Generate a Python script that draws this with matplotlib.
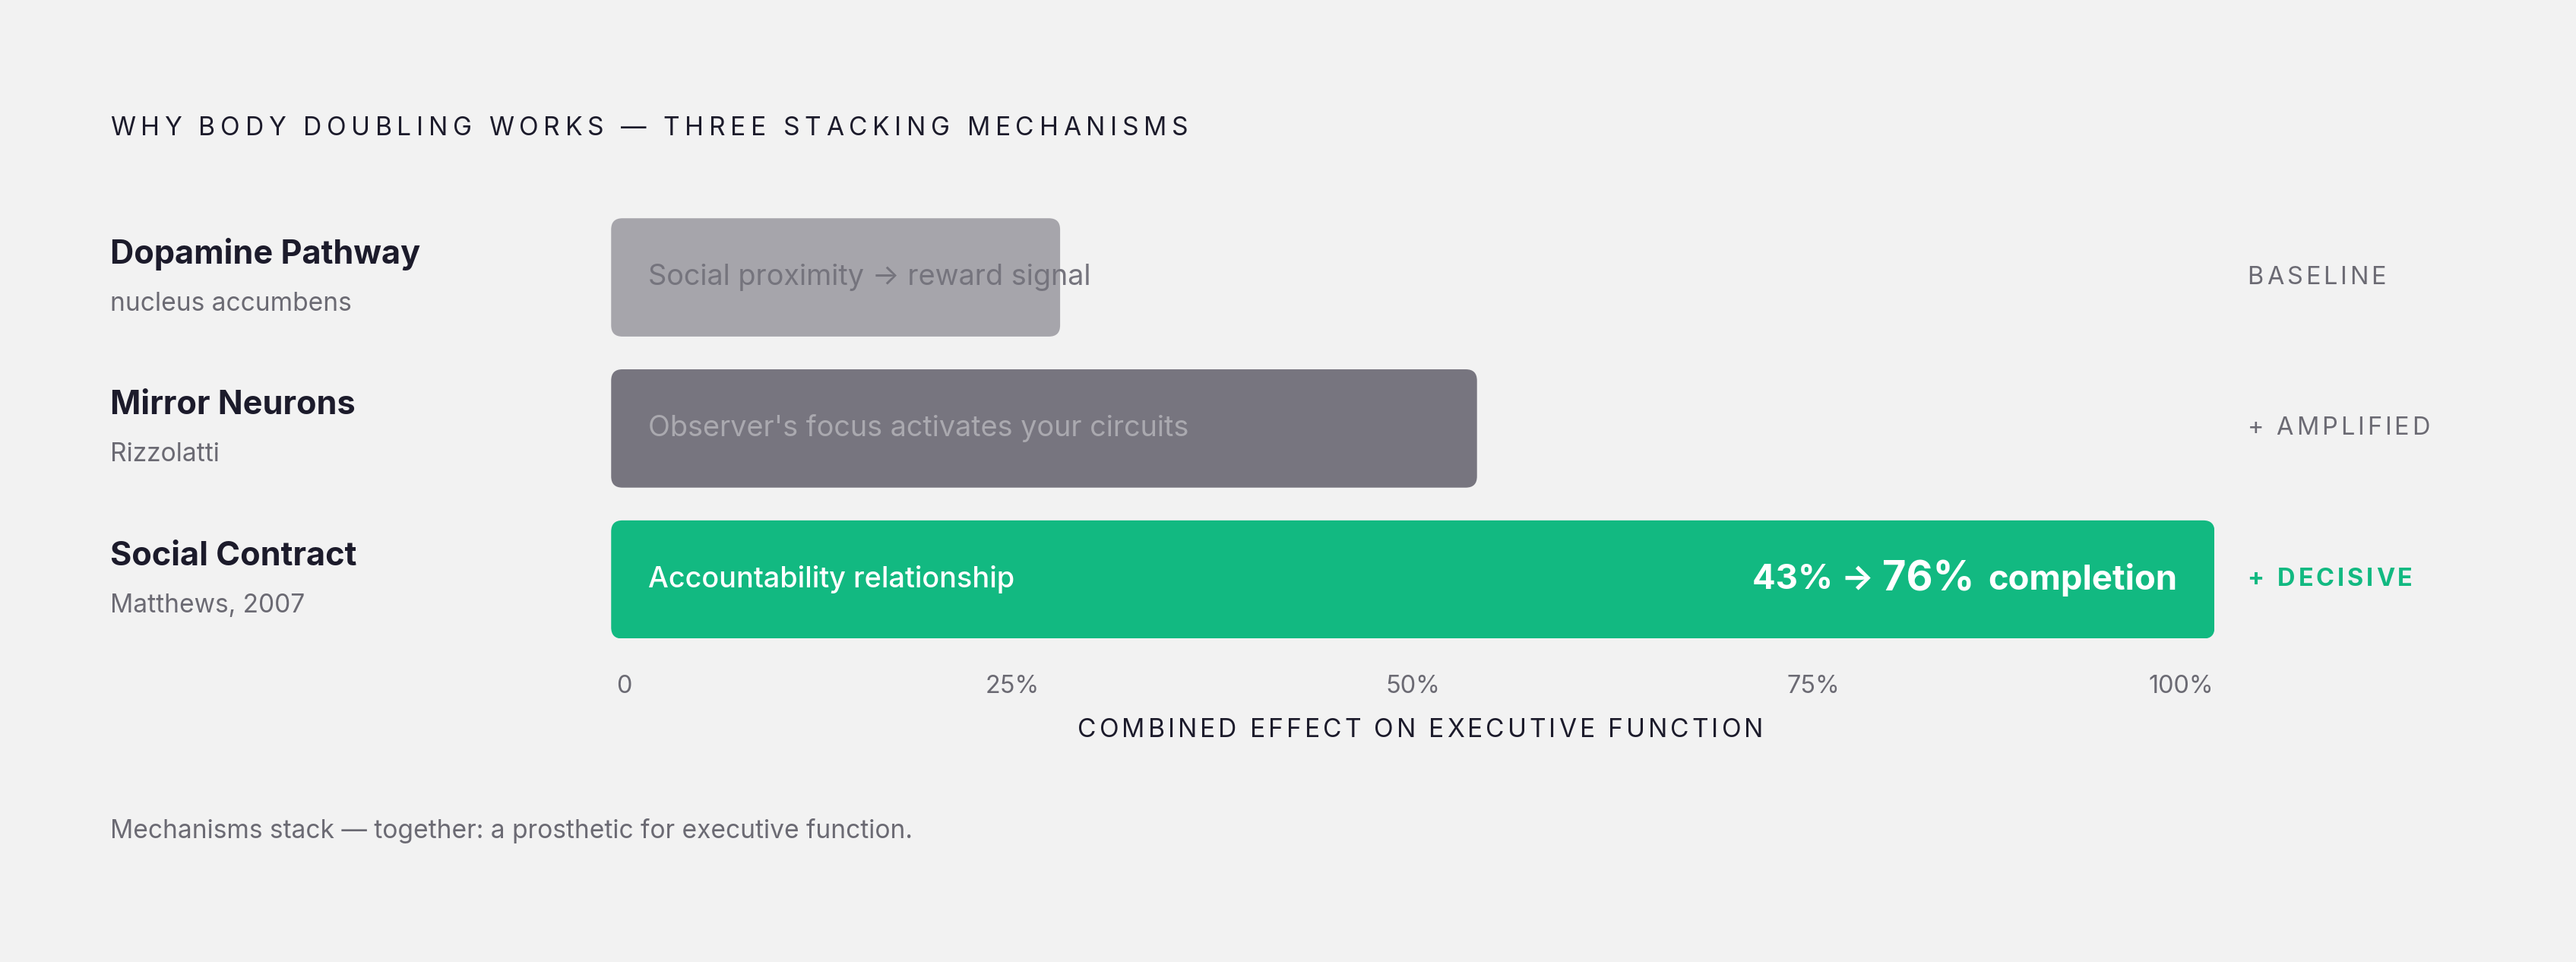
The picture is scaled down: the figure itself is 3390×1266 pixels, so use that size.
import matplotlib
matplotlib.use("Agg")
import matplotlib.pyplot as plt
from matplotlib.patches import FancyBboxPatch

names = ["Dopamine Pathway", "Mirror Neurons", "Social Contract"]
subs = ["nucleus accumbens", "Rizzolatti", "Matthews, 2007"]
values = [28, 54, 100]
inner = ["Social proximity → reward signal", "Observer's focus activates your circuits", "Accountability relationship"]
tags = ["BASELINE", "+ AMPLIFIED", "+ DECISIVE"]
ticks = [0, 25, 50, 75, 100]
tick_labels = ["0", "25%", "50%", "75%", "100%"]

bar_cols = ["#a6a5ab", "#77757f", "#12b981"]
txt_cols = ["#75747d", "#aaa9af", "#ffffff"]
tag_cols = ["#6b6a73", "#6b6a73", "#12b981"]
DARK = "#1c1b2b"; GRAY = "#6b6a73"; BG = "#f2f2f2"
W, H = 1568, 586
plt.rcParams['font.family'] = ['Inter', 'DejaVu Sans']

fig = plt.figure(figsize=(33.9, 12.66), dpi=100, facecolor=BG)
S = 2.162 * 0.72

def fx(x): return x / W
def fy(y): return 1 - y / H

def spaced(x, y, s, size, color, weight="normal", track=0.18, ha="left"):
    fig.canvas.draw() if not hasattr(spaced, "r") else None
    r = fig.canvas.get_renderer(); spaced.r = r
    # measure
    ws = []
    for ch in s:
        t = fig.text(0, 0, ch if ch != " " else "i", fontsize=size, fontweight=weight)
        w = t.get_window_extent(r).width if ch != " " else t.get_window_extent(r).width * 1.1
        t.remove(); ws.append(w)
    trackpx = track * size * 100 / 72
    total = sum(ws) + trackpx * (len(s) - 1)
    px = x * fig.bbox.width
    if ha == "right": px -= total
    for ch, w in zip(s, ws):
        if ch != " ":
            fig.text(px / fig.bbox.width, y, ch, fontsize=size, fontweight=weight, color=color, va="center")
        px += w + trackpx

ax = fig.add_axes([fx(372), fy(389), fx(1348) - fx(372), fy(133) - fy(389)])
ax.set_facecolor(BG)
ax.set_xlim(0, 100); ax.set_ylim(2.391, -0.391)
for s in ax.spines.values(): s.set_visible(False)
ax.set_xticks([]); ax.set_yticks([])
bars = ax.barh(range(3), values, height=0.783, color=bar_cols)
for b, c in zip(bars, bar_cols):
    b.set_visible(False)
    ax.add_patch(FancyBboxPatch((b.get_x(), b.get_y()), b.get_width(), b.get_height(),
                 boxstyle="round,pad=0,rounding_size=0.7", mutation_aspect=0.106,
                 fc=c, ec="none"))
for i in range(3):
    ax.text(2.3, i, inner[i], color=txt_cols[i], fontsize=17.5 * S, va="center",
            fontweight="medium" if i == 2 else "normal")
ax.text(97.7, 2, "43% → ", color="white", fontsize=21 * S, fontweight="bold", va="center", ha="right",
        transform=ax.transData)
t = ax.text(97.7, 2, "76% completion", color="white", fontsize=21 * S, fontweight="bold", va="center", ha="right")
fig.canvas.draw()
r = fig.canvas.get_renderer()
wpx = t.get_window_extent(r).width
t.remove()
t1 = ax.text(97.7, 2, "completion", color="white", fontsize=21 * S, fontweight="bold", va="center", ha="right")
w1 = t1.get_window_extent(r).width
xpx = ax.transData.transform((97.7, 2))[0] - w1 - 6
x76 = ax.transData.inverted().transform((xpx, 0))[0]
t2 = ax.text(x76, 2, "76% ", color="white", fontsize=25 * S, fontweight="bold", va="center", ha="right")
w2 = t2.get_window_extent(r).width
x43 = ax.transData.inverted().transform((xpx - w2, 0))[0]
# remove the earlier "43% →" and redraw at right place
for tt in list(ax.texts):
    if tt.get_text() == "43% → ": tt.remove()
ax.text(x43, 2, "43% → ", color="white", fontsize=21 * S, fontweight="bold", va="center", ha="right")

for i, v in enumerate(ticks):
    xd = ax.transData.transform((v, 0))[0] / fig.bbox.width
    ha = "left" if v == 0 else ("right" if v == 100 else "center")
    xd = xd + (0.002 if v == 0 else 0) - (0.0005 if v == 100 else 0)
    fig.text(xd, fy(418), tick_labels[i], fontsize=15 * S, color=GRAY, ha=ha, va="center")

ys = [169, 261, 353]
for i in range(3):
    fig.text(fx(67), fy(ys[i] - 14), names[i], fontsize=20 * S, fontweight="bold", color=DARK, va="center")
    fig.text(fx(67), fy(ys[i] + 16), subs[i], fontsize=15.5 * S, color=GRAY, va="center")
    spaced(fx(1368), fy(ys[i]), tags[i], 15 * S, tag_cols[i], weight="bold" if i == 2 else "normal", track=0.12)

spaced(fx(67), fy(78), "WHY BODY DOUBLING WORKS — THREE STACKING MECHANISMS", 15.5 * S, DARK, track=0.2)
spaced(fx(656), fy(445), "COMBINED EFFECT ON EXECUTIVE FUNCTION", 15.5 * S, DARK, track=0.12)
fig.text(fx(67), fy(506), "Mechanisms stack — together: a prosthetic for executive function.",
         fontsize=15.5 * S, color=GRAY, va="center")
fig.savefig("out.png", dpi=100, facecolor=BG)
